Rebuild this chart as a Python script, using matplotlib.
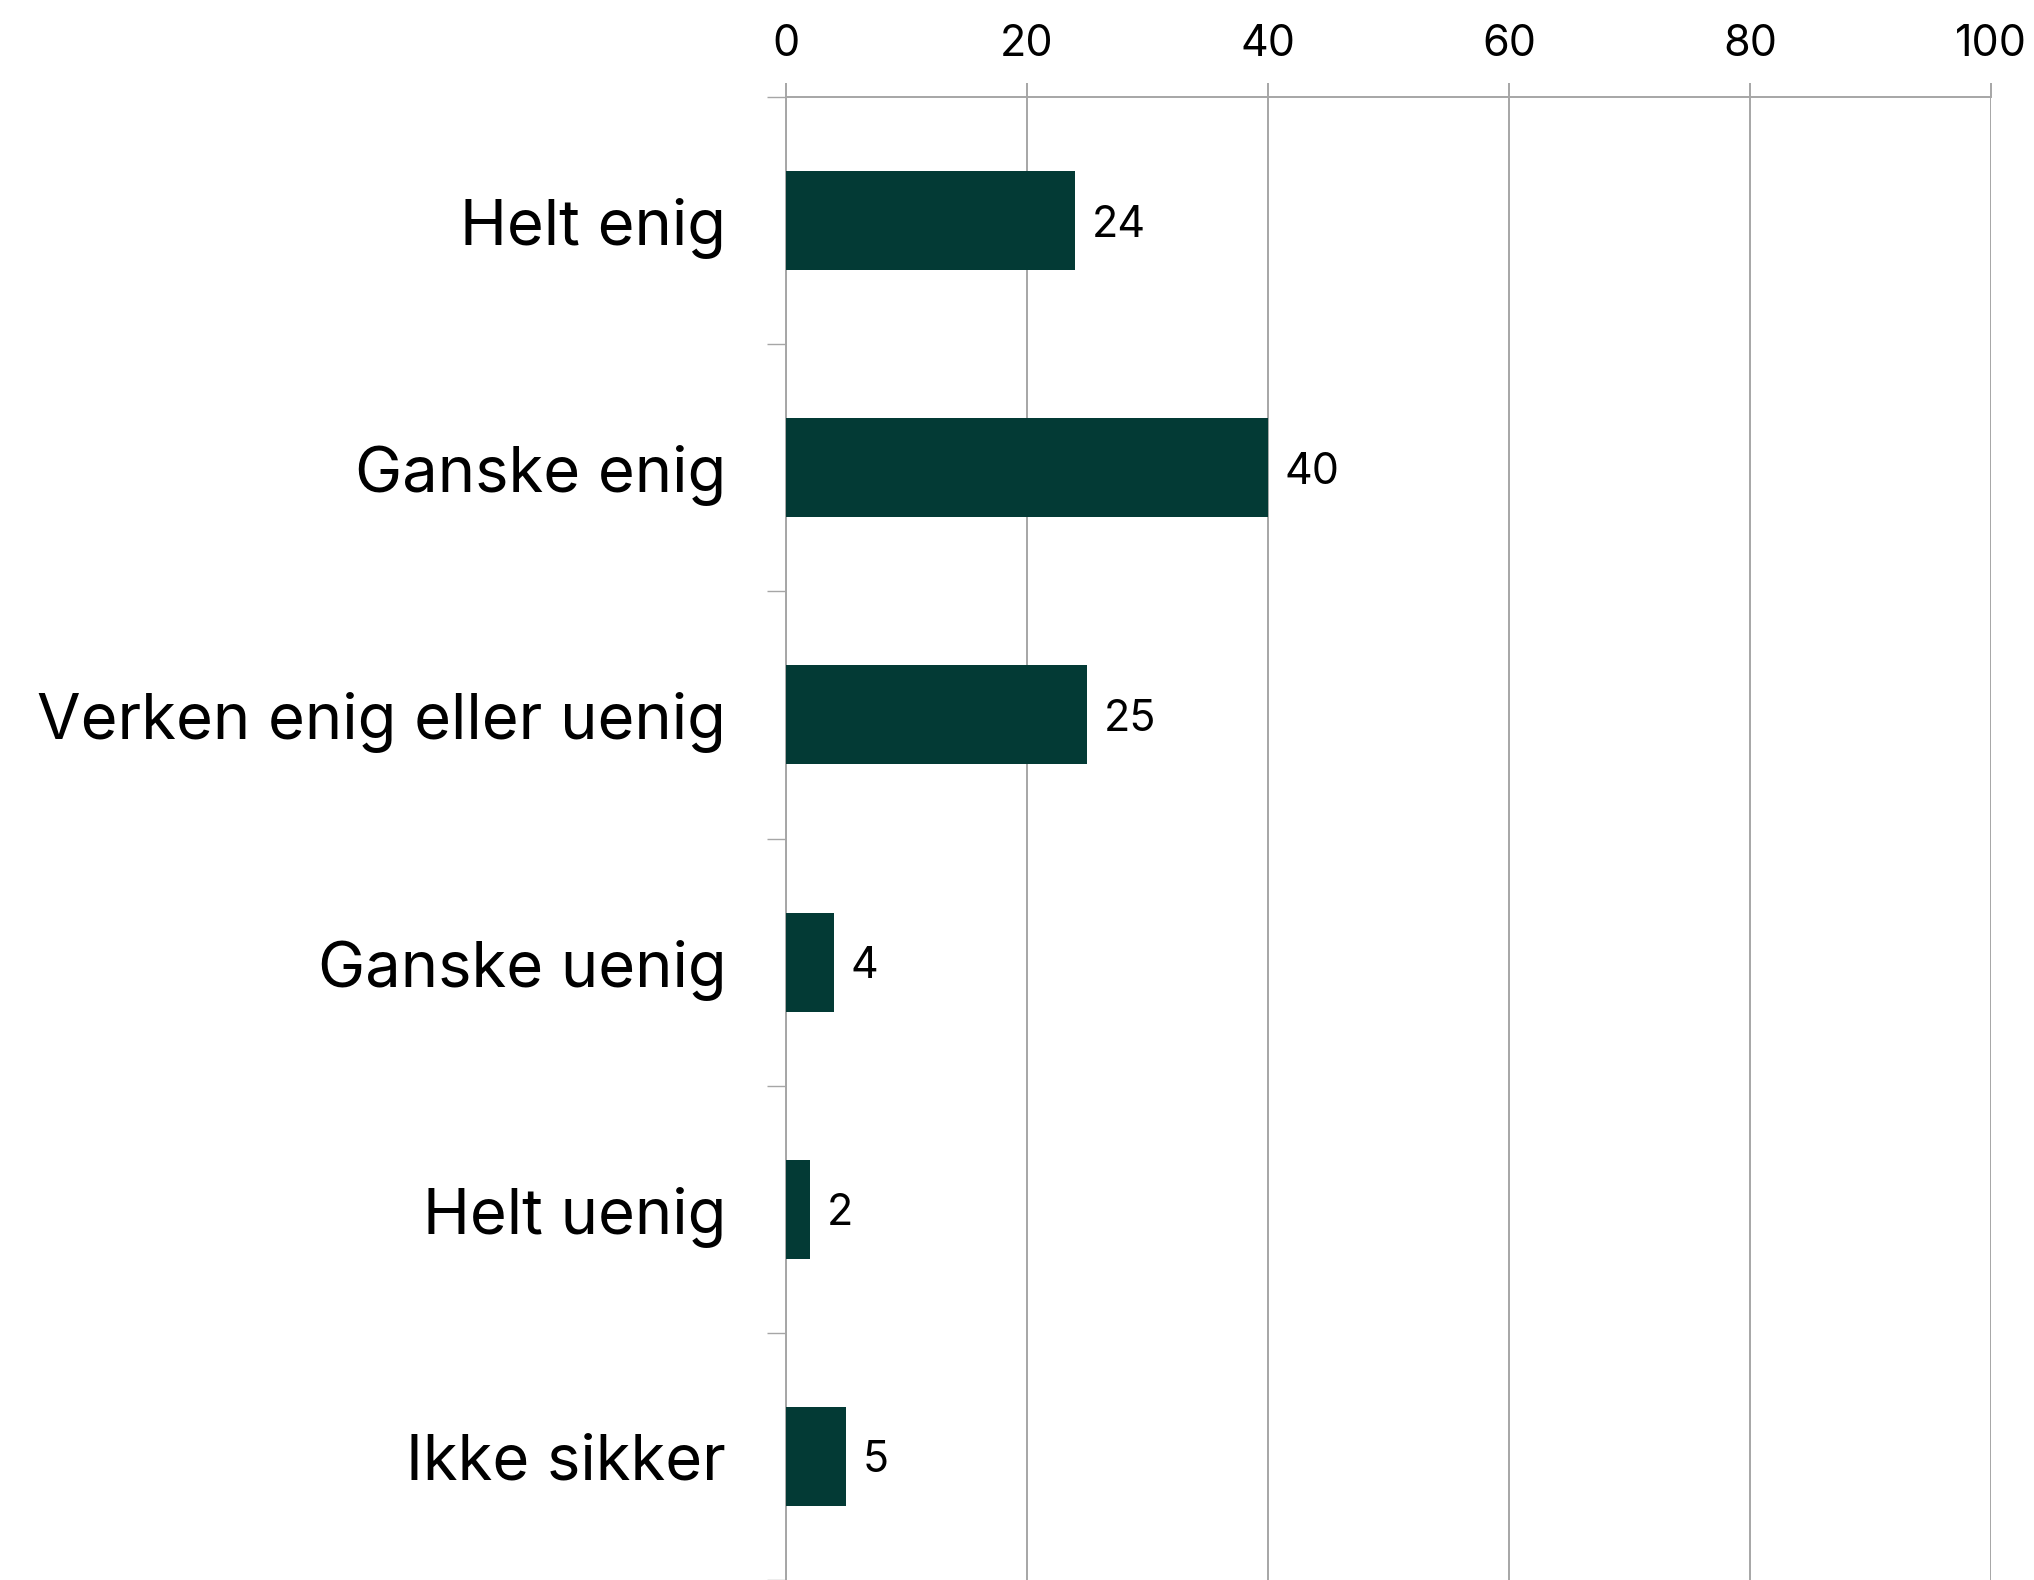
import matplotlib.pyplot as plt
import numpy as np

categories = ['Helt enig', 'Ganske enig', 'Verken enig eller uenig',
              'Ganske uenig', 'Helt uenig', 'Ikke sikker']
values = [24, 40, 25, 4, 2, 5]
x_ticks = [0, 20, 40, 60, 80, 100]

BAR_COLOR = '#033a35'
GRID_COLOR = '#a6a6a6'

plt.rcParams['font.family'] = ['Inter', 'DejaVu Sans']

W, H = 2034, 1580
fig = plt.figure(figsize=(W / 100, H / 100), dpi=100)
left, right, top = 786, 1991, 97
ax = fig.add_axes([left / W, 0, (right - left) / W, (H - top) / H])

y = np.arange(len(categories))
ax.barh(y, values, height=0.4, color=BAR_COLOR, zorder=3)

cat_px = 249.5
ax.set_ylim(-0.5 + (H - top) / cat_px, -0.5)
ax.set_xlim(0, 100)

# value labels
for yi, v in zip(y, values):
    ax.annotate(str(v), (v, yi), xytext=(12, 0), textcoords='offset points',
                va='center_baseline', ha='left', fontsize=31)

ax.xaxis.tick_top()
ax.set_xticks(x_ticks)
ax.set_xticklabels([str(t) for t in x_ticks], fontsize=31)
ax.tick_params(axis='x', length=10, width=1.4, color=GRID_COLOR, pad=13)
ax.grid(axis='x', color=GRID_COLOR, linewidth=1.4, zorder=0)

ax.set_yticks(y)
ax.set_yticklabels(categories, fontsize=45.5, va='center_baseline')
ax.tick_params(axis='y', which='major', length=0, pad=43)
ax.set_yticks(np.arange(-0.5, len(categories), 1), minor=True)
ax.tick_params(axis='y', which='minor', length=14, width=1.0, color=GRID_COLOR)

for s in ['right', 'bottom']:
    ax.spines[s].set_visible(False)
ax.spines['top'].set_color(GRID_COLOR)
ax.spines['top'].set_linewidth(1.4)
ax.spines['left'].set_color(GRID_COLOR)
ax.spines['left'].set_linewidth(1.4)

fig.savefig('out.png', dpi=100)
